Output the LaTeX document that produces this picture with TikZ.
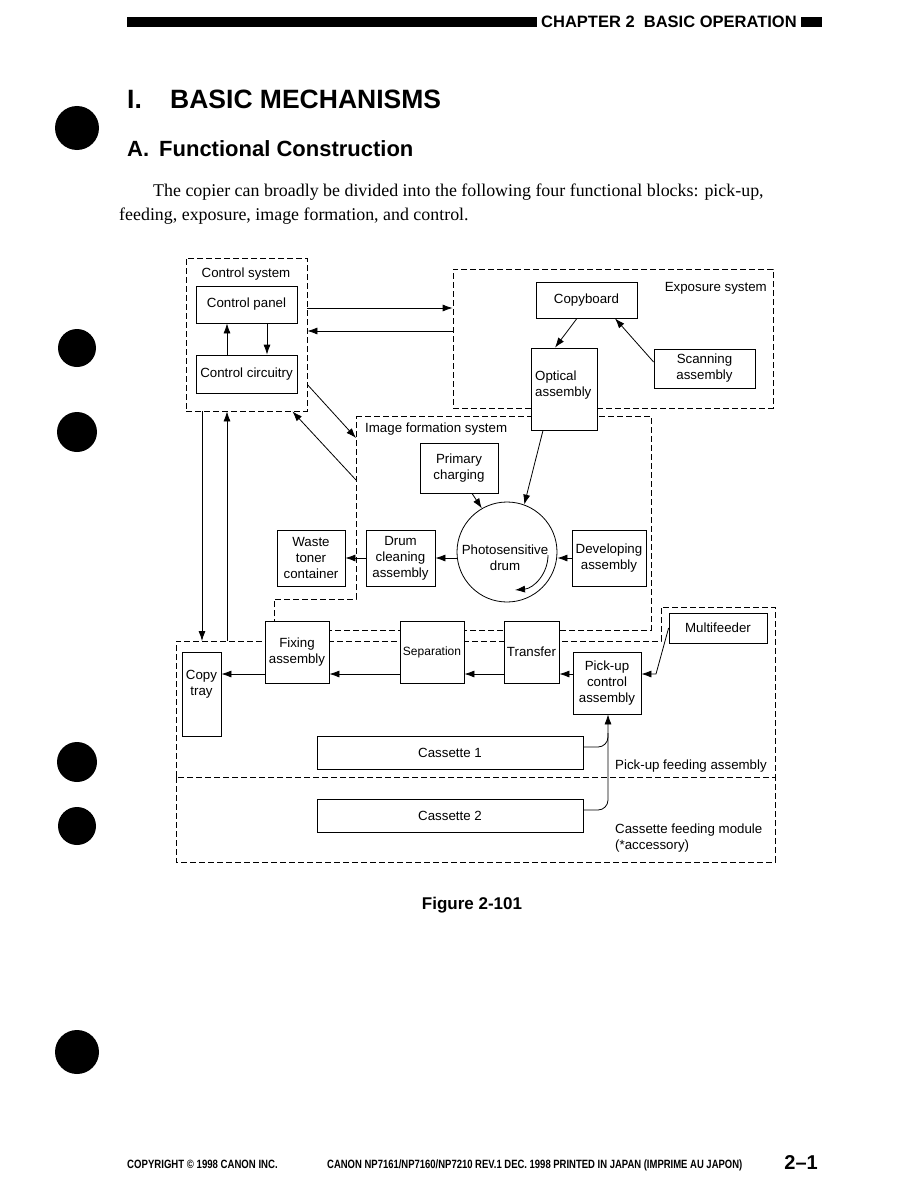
\documentclass[tikz,border=0pt]{standalone}
\usepackage{fontspec}
\setmainfont{Liberation Serif}
\setsansfont{Liberation Sans}
\usepackage{graphicx}
\usetikzlibrary{arrows.meta, positioning, calc}
\tikzset{
  blk/.style={draw, fill=white, line width=0.8pt, inner sep=1pt, align=center, font=\sffamily\fontsize{13.3}{16}\selectfont},
  zone/.style={draw, line width=0.8pt, dash pattern=on 6pt off 3pt},
  arr/.style={line width=0.8pt, -{Latex[length=10pt,width=7pt]}},
  lbl/.style={font=\sffamily\fontsize{13.3}{16}\selectfont, inner sep=0pt},
  head/.style={anchor=base west, inner sep=0pt, font=\sffamily\bfseries#1},
  foot/.style={anchor=base west, inner sep=0pt, font=\sffamily\bfseries\fontsize{12}{14}\selectfont},
}

\begin{document}
\begin{tikzpicture}[x=1pt, y=-1pt]
  \fill[white] (0,0) rectangle (918,1188);
  \useasboundingbox (0,0) rectangle (918,1188);

  % page header
  \fill (127,17) rectangle (537,27);
  \fill (801,17) rectangle (822,27);
  \node[head={\fontsize{16.5}{18}\selectfont}] (chapter) at (541,28) {CHAPTER 2\ \ BASIC OPERATION};

  % punch holes
  \foreach \y/\r in {128/22, 348/19, 432/20, 762/20, 826/19, 1052/22}
    \fill (77,\y) circle (\r pt);

  % titles and text
  \node[head={\fontsize{26.5}{30}\selectfont}] (secnum) at (127,109) {I.};
  \node[head={\fontsize{26.5}{30}\selectfont}] (sectitle) at (170,109) {BASIC MECHANISMS};
  \node[head={\fontsize{22}{25}\selectfont}] (subtitle) at (127,156) {A.\hspace{10pt}Functional Construction};
  \node[anchor=base west, inner sep=0pt, font=\fontsize{17.9}{24}\selectfont] (intro1) at (153,196)
    {The copier can broadly be divided into the following four functional blocks: pick-up,};
  \node[anchor=base west, inner sep=0pt, font=\fontsize{17.9}{24}\selectfont] (intro2) at (119,220)
    {feeding, exposure, image formation, and control.};

  % system zones
  \node[zone, minimum width=121pt, minimum height=153pt] (ctrl) at (246.5,334.5) {};
  \node[zone, minimum width=320pt, minimum height=139pt] (expo) at (613,338.5) {};
  \draw[zone] (356,416) -- (651,416) -- (651,630) -- (274,630) -- (274,599) -- (356,599) -- cycle;
  \draw[zone] (176,777) -- (176,641) -- (661,641) -- (661,607) -- (775,607) -- (775,777) -- cycle;
  \draw[zone] (176,777) -- (176,862) -- (775,862) -- (775,777);

  \node[lbl] (ctrllbl) at (246,274) {Control system};
  \node[lbl, anchor=east] (expolbl) at (767,288) {Exposure system};
  \node[lbl, anchor=west] (imglbl) at (365,429) {Image formation system};
  \node[lbl, anchor=base west] (feedlbl) at (615,769) {Pick-up feeding assembly};
  \node[lbl, anchor=north west, align=left] (modlbl) at (615,823.5) {Cassette feeding module\\(*accessory)};

  % control system
  \node[blk, minimum width=101pt, minimum height=37pt] (panel) at (246.5,304.5) {Control panel};
  \node[blk, minimum width=101pt, minimum height=38pt] (circ) at (246.5,374) {Control circuitry};
  \draw[arr] ([xshift=-19.5pt]circ.north) -- ([xshift=-19.5pt]panel.south);
  \draw[arr] ([xshift=20.5pt]panel.south) -- ([xshift=20.5pt]circ.north);

  % exposure system
  \node[blk, minimum width=101pt, minimum height=36pt] (copyb) at (586.5,300) {Copyboard};
  \node[blk, minimum width=101pt, minimum height=39pt] (scan) at (704.5,368.5) {Scanning\\assembly};
  \node[blk, minimum width=66pt, minimum height=82pt] (optic) at (564,389) {};
  \node[lbl, anchor=north west, align=left] (optictxt) at (535,370.5) {Optical\\assembly};
  \draw[arr] ([xshift=-9.5pt]copyb.south) -- ([xshift=-9pt]optic.north);
  \draw[arr] ([yshift=6.5pt]scan.west) -- ([xshift=28.5pt]copyb.south);

  % image formation
  \node[blk, minimum width=78pt, minimum height=50pt] (charge) at (459,468) {Primary\\charging};
  \node[draw, circle, fill=white, line width=0.8pt, minimum size=100pt, inner sep=0pt] (drum) at (507,552) {};
  \node[lbl, align=center] (drumtxt) at (505,558) {Photosensitive\\drum};
  \node[blk, minimum width=74pt, minimum height=56pt] (dev) at (609,558) {Developing\\assembly};
  \node[blk, minimum width=69pt, minimum height=56pt] (clean) at (400.5,558) {Drum\\cleaning\\assembly};
  \node[blk, minimum width=68pt, minimum height=56pt] (waste) at (311,558) {Waste\\toner\\container};
  \draw[arr] ([xshift=13pt]charge.south) -- (drum.120);
  \draw[arr] ([xshift=-21pt]optic.south) -- (drum.70);
  \draw[arr] (dev.west) -- (dev.west -| drum.east);
  \draw[arr] (drum.west |- clean.east) -- (clean.east);
  \draw[arr] (clean.west) -- (waste.east);
  \draw[arr] ([xshift=41pt,yshift=-3pt]drum.center) to[out=-90, in=5] ([xshift=8pt,yshift=-38pt]drum.center);

  % paper path
  \coordinate (lane) at (0,674);
  \node[blk, minimum width=64pt, minimum height=62pt] (fix) at (297,652) {Fixing\\assembly};
  \node[blk, minimum width=64pt, minimum height=62pt, font=\sffamily\fontsize{12}{14}\selectfont] (sep) at (432,652) {Separation};
  \node[blk, minimum width=55pt, minimum height=62pt, inner sep=0pt] (trans) at (531.5,652) {Transfer};
  \node[blk, minimum width=39pt, minimum height=84pt] (tray) at (201.5,694) {};
  \node[lbl, anchor=north, align=center] (traytxt) at (201.5,670.5) {Copy\\tray};
  \node[blk, minimum width=68pt, minimum height=62pt] (pick) at (607,683) {Pick-up\\control\\assembly};
  \node[blk, minimum width=98pt, minimum height=30pt] (mf) at (718,628) {Multifeeder};
  \node[blk, minimum width=266pt, minimum height=33pt] (cas1) at (450,752.5) {Cassette 1};
  \node[blk, minimum width=266pt, minimum height=33pt] (cas2) at (450,815.5) {Cassette 2};

  \draw[arr] (pick.west |- lane) -- (trans.east |- lane);
  \draw[arr] (trans.west |- lane) -- (sep.east |- lane);
  \draw[arr] (sep.west |- lane) -- (fix.east |- lane);
  \draw[arr] (fix.west |- lane) -- (tray.east |- lane);
  \coordinate (mfbend) at (656,674);
  \draw[arr] (mf.west) -- (mfbend) -- (pick.east |- lane);

  \coordinate (riser) at (608,0);
  \coordinate (k1) at (583,747);
  \coordinate (k2) at (583,810);
  \draw[arr, rounded corners=10pt] (k2) -- (k2 -| riser) -- (pick.south -| riser);
  \draw[line width=0.8pt, rounded corners=10pt] (k1) -- (k1 -| riser) -- ++(0,-14);

  % links between systems
  \coordinate (toexp) at (307,308);
  \coordinate (fromexp) at (453,331);
  \draw[arr] (toexp) -- (toexp -| expo.west);
  \draw[arr] (fromexp) -- (fromexp -| ctrl.east);
  \coordinate (imgA) at (356,438);
  \coordinate (imgB) at (356,480);
  \draw[arr] ([yshift=-127pt]ctrl.north east) -- (imgA);
  \draw[arr] (imgB) -- ([xshift=-15pt]ctrl.south east);
  \coordinate (feedA) at (202,641);
  \coordinate (feedB) at (227,641);
  \draw[arr] (ctrl.south -| feedA) -- (feedA);
  \draw[arr] (feedB) -- (ctrl.south -| feedB);

  % caption and footer
  \node[anchor=base, inner sep=0pt, font=\sffamily\bfseries\fontsize{17}{20}\selectfont] (figcap) at (472,909) {Figure 2-101};
  \node[foot] (copyr) at (127,1168) {\scalebox{0.8}[1]{COPYRIGHT © 1998 CANON INC.}};
  \node[foot] (imprint) at (327,1168) {\scalebox{0.79}[1]{CANON NP7161/NP7160/NP7210 REV.1 DEC. 1998 PRINTED IN JAPAN (IMPRIME AU JAPON)}};
  \node[anchor=base east, inner sep=0pt, font=\sffamily\bfseries\fontsize{20}{22}\selectfont] (pageno) at (818,1169) {2--1};
\end{tikzpicture}
\end{document}
